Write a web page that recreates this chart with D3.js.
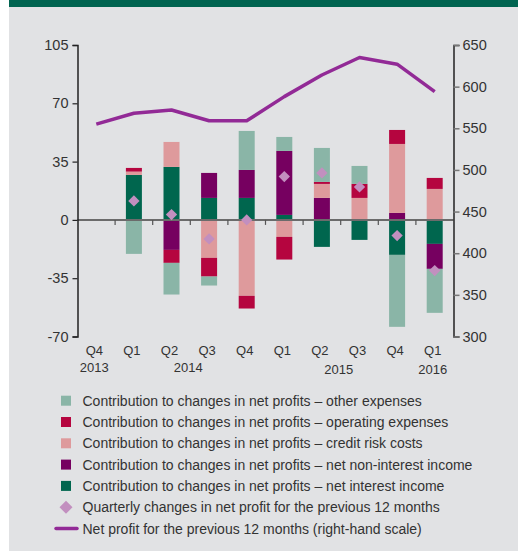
<!DOCTYPE html>
<html>
<head>
<meta charset="utf-8">
<script src="https://cdn.jsdelivr.net/npm/d3@7"></script>
<style>
	body { margin: 0; background: #fff; }
	svg text { font-family: "Liberation Sans Narrow", "Arial Narrow", "Liberation Sans", sans-serif; fill: #333; }
</style>
</head>
<body>
<div id="chart"></div>
<script>
// quarters and year labels
var quarters = ["Q4 2013", "Q1 2014", "Q2 2014", "Q3 2014", "Q4 2014", "Q1 2015", "Q2 2015", "Q3 2015", "Q4 2015", "Q1 2016"];
var quarterLabels = ["Q4", "Q1", "Q2", "Q3", "Q4", "Q1", "Q2", "Q3", "Q4", "Q1"];
var yearLabels = [
	{ text: "2013", from: "Q4 2013", to: "Q4 2013" },
	{ text: "2014", from: "Q2 2014", to: "Q3 2014" },
	{ text: "2015", from: "Q2 2015", to: "Q3 2015" },
	{ text: "2016", from: "Q1 2016", to: "Q1 2016" }
];

// contributions (left scale)
var netInterest = [0, 27.0, 31.8, 13.2, 13.2, 3.0, -16.2, -12.0, -21.0, -14.4];
var netNonInterest = [0, 0, -18.0, 15.0, 16.8, 38.4, 13.2, 0, 4.2, -15.0];
var creditRisk = [0, 2.0, 15.0, -22.8, -45.6, -10.2, 8.4, 13.2, 41.4, 18.6];
var operatingExp = [0, 2.2, -7.8, -11.2, -7.6, -13.6, 1.2, 8.4, 8.4, 6.6];
var otherExp = [0, -20.4, -19.0, -5.4, 23.4, 8.4, 20.4, 10.8, -43.2, -26.4];

// quarterly change (diamonds) and net profit (right scale)
var quarterlyChange = [null, 11.4, 3.2, -11.4, 0, 26.0, 28.2, 19.8, -9.4, -30.4];
var netProfit = [555, 568, 572, 559, 559, 588, 614, 635, 627, 594];

var leftTicks = [-70, -35, 0, 35, 70, 105];
var rightTicks = [300, 350, 400, 450, 500, 550, 600, 650];

var series = [
	{ key: "nii", values: netInterest, color: "#00664e", label: "Contribution to changes in net profits \u2013 net interest income" },
	{ key: "nonii", values: netNonInterest, color: "#760060", label: "Contribution to changes in net profits \u2013 net non-interest income" },
	{ key: "credit", values: creditRisk, color: "#de9a9c", label: "Contribution to changes in net profits \u2013 credit risk costs" },
	{ key: "opex", values: operatingExp, color: "#b5053f", label: "Contribution to changes in net profits \u2013 operating expenses" },
	{ key: "other", values: otherExp, color: "#8ab5a7", label: "Contribution to changes in net profits \u2013 other expenses" }
];

var W = 518, H = 551;
var svg = d3.select("#chart").append("svg")
	.attr("width", W)
	.attr("height", H);

// panel + header strip
svg.append("rect").attr("x", 9).attr("y", 0).attr("width", W - 9).attr("height", H).attr("fill", "#e1e2e4");
svg.append("rect").attr("x", 9).attr("y", 0).attr("width", W - 9).attr("height", 7).attr("fill", "#006450");

var plotLeft = 77.5, plotRight = 453.5, plotTop = 45, plotBottom = 336.5;

var x = d3.scaleBand().domain(quarters).range([plotLeft, plotRight]).padding(0);
var yL = d3.scaleLinear().domain([-70, 105]).range([plotBottom, plotTop]);
var yR = d3.scaleLinear().domain([300, 650]).range([plotBottom, plotTop]);

// stacked table
var table = quarters.map(function(q, i){
	var row = { q: q };
	series.forEach(function(s){ row[s.key] = s.values[i]; });
	return row;
});
var stack = d3.stack()
	.keys(series.map(function(s){ return s.key; }))
	.offset(d3.stackOffsetDiverging);
var stacked = stack(table);

var barW = 16;

stacked.forEach(function(layer, li){
	svg.append("g")
		.selectAll("rect")
		.data(layer)
		.enter().append("rect")
		.attr("x", function(d){ return x(d.data.q) + x.bandwidth() / 2 - barW / 2; })
		.attr("y", function(d){ return yL(Math.max(d[0], d[1])); })
		.attr("width", barW)
		.attr("height", function(d){ return Math.abs(yL(d[0]) - yL(d[1])); })
		.attr("fill", series[li].color);
});

// zero line with ticks at category boundaries
svg.append("line")
	.attr("x1", plotLeft).attr("x2", plotRight)
	.attr("y1", yL(0)).attr("y2", yL(0))
	.attr("stroke", "#6b6b6b").attr("stroke-width", 2);
svg.append("g").selectAll("line")
	.data(quarters.slice(1))
	.enter().append("line")
	.attr("x1", function(d){ return x(d); })
	.attr("x2", function(d){ return x(d); })
	.attr("y1", yL(0)).attr("y2", yL(0) + 5)
	.attr("stroke", "#555").attr("stroke-width", 1.2);

// plain hyphen for negatives, like the original
var fmt = function(d){ return String(d); };

// left axis
var axisL = svg.append("g")
	.attr("transform", "translate(" + plotLeft + ",0)")
	.call(d3.axisLeft(yL).tickValues(leftTicks).tickFormat(fmt).tickSize(5).tickPadding(4));
axisL.select(".domain").attr("stroke", "#222").attr("stroke-width", 1.5);
axisL.selectAll(".tick line").attr("stroke", "#222").attr("stroke-width", 1.2);
axisL.selectAll("text").style("font-size", "14.5px").attr("fill", "#333");

// right axis
var axisR = svg.append("g")
	.attr("transform", "translate(" + plotRight + ",0)")
	.call(d3.axisRight(yR).tickValues(rightTicks).tickFormat(fmt).tickSize(6).tickPadding(3));
axisR.select(".domain").attr("stroke", "#222").attr("stroke-width", 1.5);
axisR.selectAll(".tick line").attr("stroke", "#777").attr("stroke-width", 1.5);
axisR.selectAll("text").style("font-size", "14.5px").attr("fill", "#333");

// x labels
svg.append("g").selectAll("text")
	.data(quarters)
	.enter().append("text")
	.attr("x", function(d){ return x(d) + x.bandwidth() / 2 - 2; })
	.attr("y", 355)
	.attr("text-anchor", "middle")
	.style("font-size", "13px")
	.text(function(d, i){ return quarterLabels[i]; });

svg.append("g").selectAll("text")
	.data(yearLabels)
	.enter().append("text")
	.attr("x", function(d){ return (x(d.from) + x(d.to) + x.bandwidth()) / 2 - 2; })
	.attr("y", function(d){ return d.text == "2015" || d.text == "2016" ? 374 : 372; })
	.attr("text-anchor", "middle")
	.style("font-size", "13px")
	.text(function(d){ return d.text; });

// net profit line
var line = d3.line()
	.x(function(d, i){ return x(quarters[i]) + x.bandwidth() / 2; })
	.y(function(d){ return yR(d); });
svg.append("path")
	.datum(netProfit)
	.attr("d", line)
	.attr("fill", "none")
	.attr("stroke", "#922a96")
	.attr("stroke-width", 3.5)
	.attr("stroke-linejoin", "round");

// diamonds
var diamondColor = "#c28fbf";
svg.append("g").selectAll("path")
	.data(quarters.map(function(q, i){ return { q: q, v: quarterlyChange[i] }; }).filter(function(d){ return d.v != null; }))
	.enter().append("path")
	.attr("d", d3.symbol().type(d3.symbolSquare).size(64))
	.attr("transform", function(d){
		return "translate(" + (x(d.q) + x.bandwidth() / 2) + "," + yL(d.v) + ") rotate(45)";
	})
	.attr("fill", diamondColor);

// legend
var legendItems = [
	{ type: "box", color: series[4].color, label: series[4].label },
	{ type: "box", color: series[3].color, label: series[3].label },
	{ type: "box", color: series[2].color, label: series[2].label },
	{ type: "box", color: series[1].color, label: series[1].label },
	{ type: "box", color: series[0].color, label: series[0].label },
	{ type: "diamond", color: diamondColor, label: "Quarterly changes in net profit for the previous 12 months" },
	{ type: "line", color: "#922a96", label: "Net profit for the previous 12 months (right-hand scale)" }
];

var legend = svg.append("g").selectAll("g")
	.data(legendItems)
	.enter().append("g")
	.attr("transform", function(d, i){ return "translate(0," + (400.7 + i * 21.3) + ")"; });

legend.filter(function(d){ return d.type == "box"; })
	.append("rect")
	.attr("x", 61).attr("y", -5).attr("width", 10).attr("height", 10)
	.attr("fill", function(d){ return d.color; });

legend.filter(function(d){ return d.type == "diamond"; })
	.append("path")
	.attr("d", d3.symbol().type(d3.symbolSquare).size(85))
	.attr("transform", "translate(66,0) rotate(45)")
	.attr("fill", function(d){ return d.color; });

legend.filter(function(d){ return d.type == "line"; })
	.append("line")
	.attr("x1", 56).attr("x2", 77).attr("y1", 0).attr("y2", 0)
	.attr("stroke", function(d){ return d.color; })
	.attr("stroke-width", 3.5)
	.attr("stroke-linecap", "round");

legend.append("text")
	.attr("x", 82.5)
	.attr("y", 5)
	.style("font-size", "14px")
	.text(function(d){ return d.label; });
</script>
</body>
</html>
